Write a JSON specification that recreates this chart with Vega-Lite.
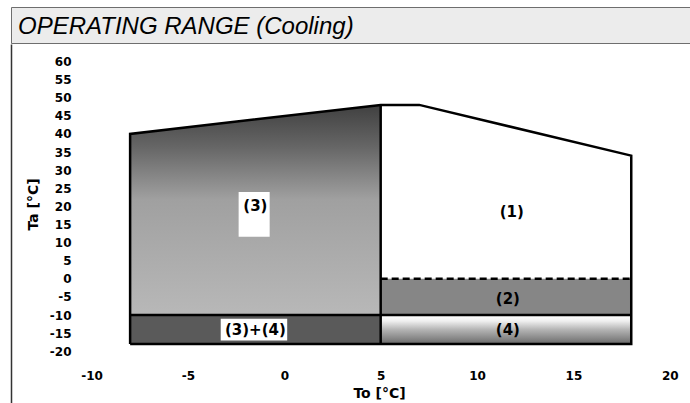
{
  "$schema": "https://vega.github.io/schema/vega-lite/v6.json",
  "padding": {"left": 10, "top": 6, "right": 0, "bottom": 0},
  "autosize": {"type": "pad"},
  "spacing": 0,
  "background": "#ffffff",
  "config": {"view": {"stroke": null}, "font": "DejaVu Sans"},
  "vconcat": [
    {
      "width": 680,
      "height": 36,
      "view": {"fill": "#ececec", "stroke": "#6e6e6e", "strokeWidth": 1},
      "data": {"values": [{"title": "OPERATING RANGE (Cooling)"}]},
      "mark": {"type": "text", "font": "Liberation Sans", "fontStyle": "italic", "fontSize": 24, "align": "left", "baseline": "alphabetic", "dx": 7, "dy": 9, "color": "#000000"},
      "encoding": {
        "text": {"field": "title"},
        "x": {"datum": 0, "type": "quantitative", "scale": {"domain": [0, 1], "nice": false, "zero": false}, "axis": null}
      }
    },
    {
      "width": 680,
      "height": 361,
      "view": {"stroke": null},
      "encoding": {
        "x": {"field": "To", "type": "quantitative", "scale": {"domain": [-14.18, 21.1], "nice": false, "zero": false},
          "axis": {"title": "To [°C]", "values": [-10, -5, 0, 5, 10, 15, 20], "labelExpr": "'' + datum.value", "grid": false, "ticks": false, "tickSize": 0, "domain": false, "labelPadding": -30, "labelBaseline": "middle", "labelFont": "DejaVu Sans", "labelFontWeight": "bold", "labelFontSize": 12, "labelColor": "#000000", "labelFlush": false, "labelOverlap": false, "titleFont": "DejaVu Sans", "titleFontSize": 14, "titleFontWeight": "bold", "titleColor": "#000000", "titleX": 368, "titleY": -12, "titleAlign": "center", "titleBaseline": "middle"}},
        "y": {"field": "Ta", "type": "quantitative", "scale": {"domain": [-34.8, 64.8], "nice": false, "zero": false},
          "axis": {"title": "Ta [°C]", "values": [-20, -15, -10, -5, 0, 5, 10, 15, 20, 25, 30, 35, 40, 45, 50, 55, 60], "labelExpr": "'' + datum.value", "grid": false, "ticks": false, "tickSize": 0, "domain": true, "domainColor": "#333333", "domainWidth": 1.5, "labelPadding": -60, "labelAlign": "right", "labelBaseline": "middle", "labelFont": "DejaVu Sans", "labelFontWeight": "bold", "labelFontSize": 12, "labelColor": "#000000", "labelFlush": false, "labelOverlap": false, "titleFont": "DejaVu Sans", "titleFontSize": 14, "titleFontWeight": "bold", "titleColor": "#000000", "titleX": 22, "titleY": 160, "titleAngle": 270, "titleAlign": "center", "titleBaseline": "middle"}}
      },
      "layer": [
        {
          "data": {"values": [{"To": -8, "Ta": 40, "Ta2": -10}, {"To": 5, "Ta": 48, "Ta2": -10}]},
          "mark": {"type": "area", "stroke": null, "fill": {"gradient": "linear", "x1": 0, "y1": 0, "x2": 0, "y2": 1, "stops": [{"offset": 0, "color": "#404040"}, {"offset": 0.2, "color": "#666666"}, {"offset": 0.45, "color": "#a0a0a0"}, {"offset": 1, "color": "#b8b8b8"}]}},
          "encoding": {"y2": {"field": "Ta2"}}
        },
        {
          "data": {"values": [
            {"region": "(3)+(4)", "To": -8, "To2": 5, "Ta": -18, "Ta2": -10},
            {"region": "(2)", "To": 5, "To2": 18, "Ta": -10, "Ta2": 0}
          ]},
          "mark": {"type": "rect", "stroke": null},
          "encoding": {
            "x2": {"field": "To2"},
            "y2": {"field": "Ta2"},
            "color": {"field": "region", "type": "nominal", "scale": {"domain": ["(3)+(4)", "(2)"], "range": ["#5a5a5a", "#868686"]}, "legend": null}
          }
        },
        {
          "data": {"values": [{"region": "(4)", "To": 5, "To2": 18, "Ta": -10, "Ta2": -18}]},
          "mark": {"type": "rect", "stroke": null, "fill": {"gradient": "linear", "x1": 0, "y1": 0, "x2": 0, "y2": 1, "stops": [{"offset": 0, "color": "#ffffff"}, {"offset": 0.2, "color": "#f0f0f0"}, {"offset": 0.5, "color": "#b4b4b4"}, {"offset": 1, "color": "#6a6a6a"}]}},
          "encoding": {"x2": {"field": "To2"}, "y2": {"field": "Ta2"}}
        },
        {
          "data": {"values": [
            {"box": "(3)", "To": -2.37, "To2": -0.76, "Ta": 24, "Ta2": 11.6},
            {"box": "(3)+(4)", "To": -3.3, "To2": 0.15, "Ta": -11, "Ta2": -17}
          ]},
          "mark": {"type": "rect", "stroke": null, "fill": "#ffffff"},
          "encoding": {"x2": {"field": "To2"}, "y2": {"field": "Ta2"}}
        },
        {
          "data": {"values": [
            {"To": 5, "To2": 5, "Ta": -18, "Ta2": 48},
            {"To": -8, "To2": 18, "Ta": -10, "Ta2": -10}
          ]},
          "mark": {"type": "rule", "color": "#000000", "strokeWidth": 2.5},
          "encoding": {"x2": {"field": "To2"}, "y2": {"field": "Ta2"}}
        },
        {
          "data": {"values": [{"To": 5, "To2": 18, "Ta": 0}]},
          "mark": {"type": "rule", "color": "#000000", "strokeWidth": 2.5, "strokeDash": [7, 4]},
          "encoding": {"x2": {"field": "To2"}}
        },
        {
          "data": {"values": [
            {"o": 1, "To": -8, "Ta": -18},
            {"o": 2, "To": -8, "Ta": 40},
            {"o": 3, "To": 5, "Ta": 48},
            {"o": 4, "To": 7, "Ta": 48},
            {"o": 5, "To": 18, "Ta": 34},
            {"o": 6, "To": 18, "Ta": -18},
            {"o": 7, "To": -8, "Ta": -18}
          ]},
          "mark": {"type": "line", "color": "#000000", "strokeWidth": 2.5, "strokeJoin": "miter"},
          "encoding": {"order": {"field": "o", "type": "quantitative"}}
        },
        {
          "data": {"values": [
            {"label": "(3)", "To": -1.5, "Ta": 20},
            {"label": "(1)", "To": 11.8, "Ta": 18.5},
            {"label": "(2)", "To": 11.6, "Ta": -5.5},
            {"label": "(4)", "To": 11.6, "Ta": -14},
            {"label": "(3)+(4)", "To": -1.5, "Ta": -14}
          ]},
          "mark": {"type": "text", "font": "DejaVu Sans", "fontWeight": "bold", "fontSize": 15, "color": "#000000", "align": "center", "baseline": "middle"},
          "encoding": {"text": {"field": "label"}}
        }
      ]
    }
  ]
}
